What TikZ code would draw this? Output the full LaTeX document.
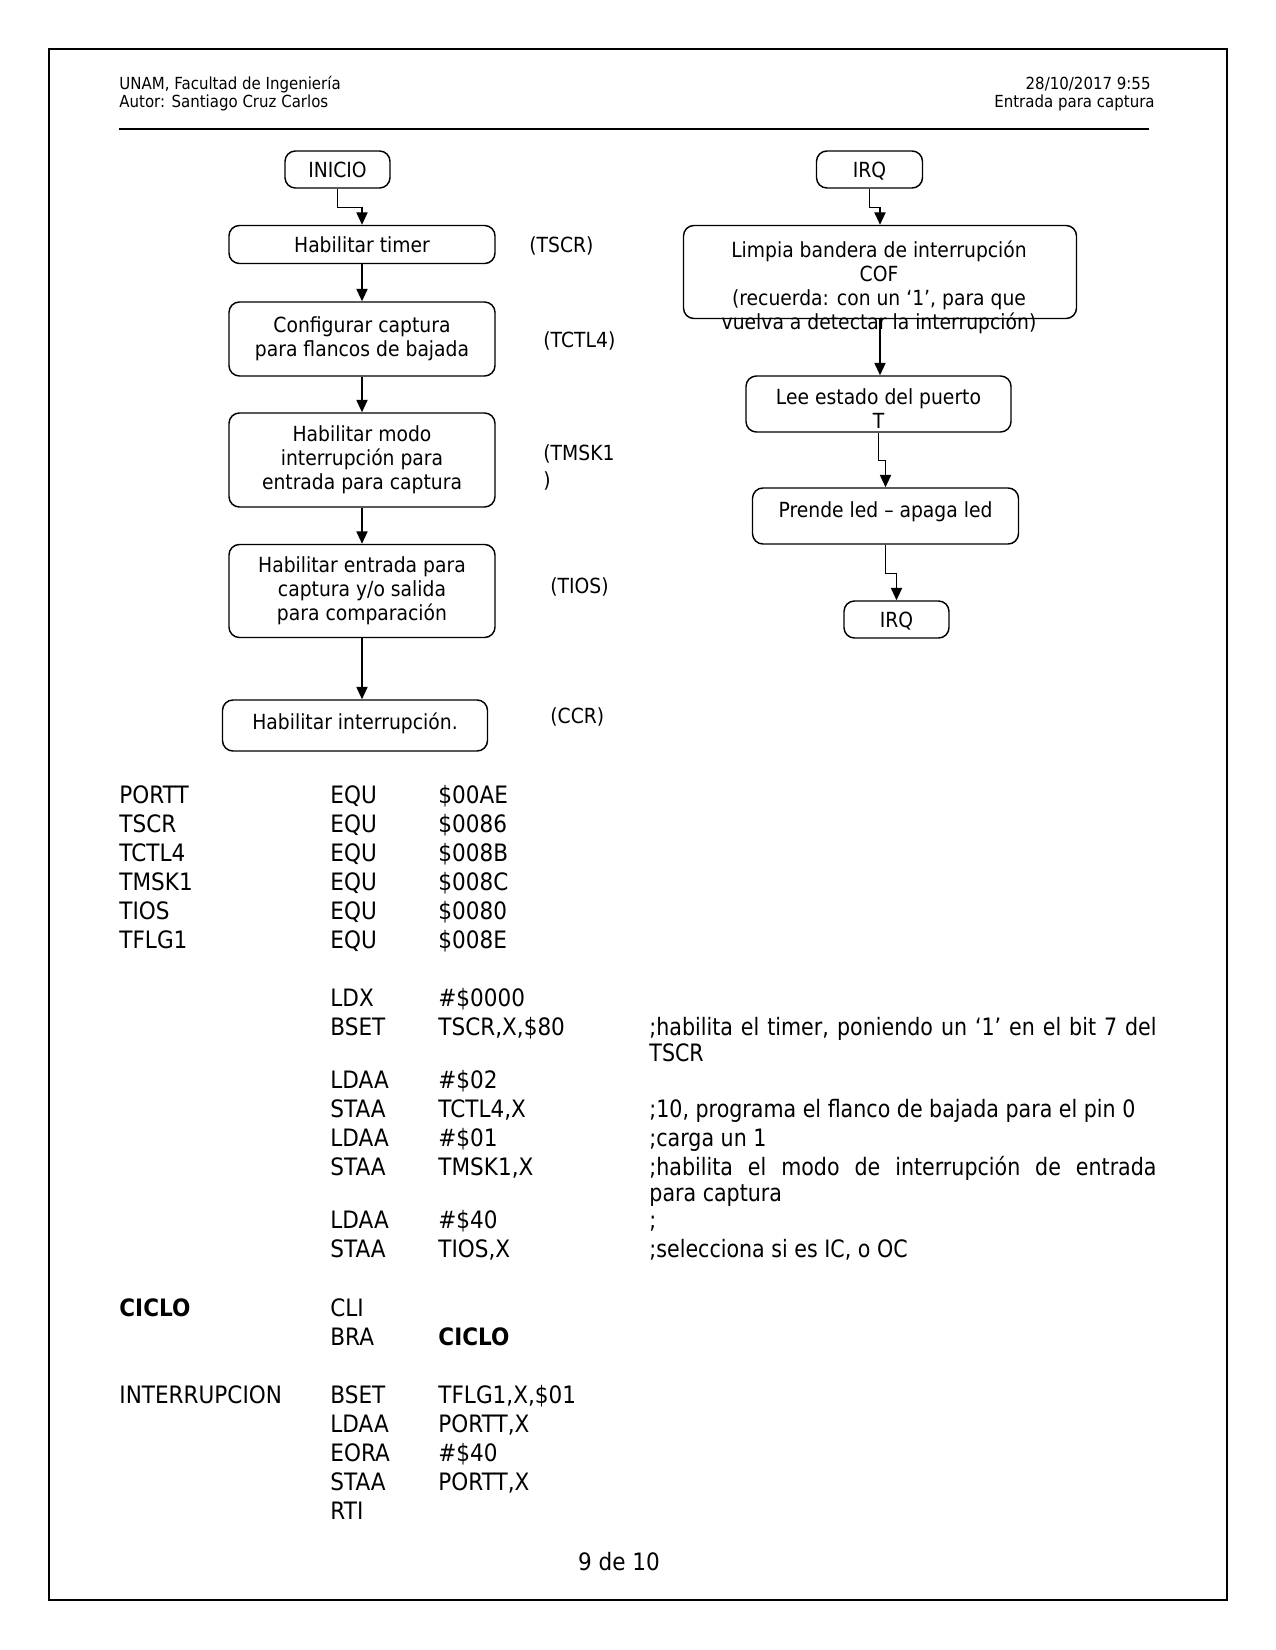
\documentclass[tikz,border=0pt]{standalone}
\usepackage{fontspec}
\setmainfont{DejaVu Sans}[FakeStretch=0.9]
\newfontfamily\cmtfamily{DejaVu Sans}[FakeStretch=0.86]
\usetikzlibrary{arrows.meta}
\newcommand\flowfont{\fontsize{10pt}{11.5pt}\selectfont}
\newcommand\codefont{\fontsize{11.5pt}{13.9pt}\selectfont}
\newcommand\hdrfont{\fontsize{8pt}{9pt}\selectfont}
\begin{document}
\begin{tikzpicture}[x=0.48pt,y=-0.48pt,
  box/.style={draw, line width=0.7pt, rounded corners=5pt, inner sep=0pt, align=center, font=\flowfont},
  capbox/.style={text height=7.8pt, text depth=0pt},
  ftxt/.style={inner sep=0pt, align=center, font=\flowfont},
  lbl/.style={anchor=base west, inner sep=0pt, font=\flowfont},
  hdr/.style={anchor=base west, inner sep=0pt, font=\hdrfont},
  code/.style={anchor=base west, inner sep=0pt, font=\codefont},
  cmt/.style={anchor=base west, inner sep=0pt, font=\cmtfamily\codefont},
  arr/.style={line width=0.7pt, -{Triangle[length=6pt,width=5.4pt]}}]
\useasboundingbox (0,0) rectangle (1275,1650);
% frame
\draw[line width=0.6pt] (49,49) rectangle (1227,1600);
% header
\node[hdr] (h1) at (119,90) {UNAM, Facultad de Ingeniería};
\node[hdr] (h2) at (119,108) {Autor: Santiago Cruz Carlos};
\node[hdr, anchor=base east] (h3) at (1151,90) {28/10/2017 9:55};
\node[hdr, anchor=base east] (h4) at (1155,108) {Entrada para captura};
\coordinate (rl) at (119,129);
\coordinate (rr) at (1149,129);
\draw[line width=0.5pt] (rl) -- (rr);
% left flowchart
\node[box, capbox, minimum width=105*0.48pt, minimum height=37*0.48pt] (inicio) at (337.5,169.5) {INICIO};
\node[box, minimum width=266*0.48pt, minimum height=38*0.48pt] (t1) at (362,244.5) {Habilitar timer};
\node[box, minimum width=266*0.48pt, minimum height=74*0.48pt] (t2) at (362,339) {Configurar captura\\para flancos de bajada};
\node[box, minimum width=266*0.48pt, minimum height=94*0.48pt] (t3) at (362,460) {Habilitar modo\\interrupción para\\entrada para captura};
\node[box, minimum width=266*0.48pt, minimum height=93*0.48pt] (t4) at (362,591) {Habilitar entrada para\\captura y/o salida\\para comparación};
\node[box, text height=7pt, text depth=3.5pt, minimum width=265*0.48pt, minimum height=51*0.48pt] (t5) at (355,725.5) {Habilitar interrupción.};
\draw[arr] (inicio.south) -- ++(0,19) -| (t1.north);
\draw[arr] (t1.south) -- (t2.north);
\draw[arr] (t2.south) -- (t3.north);
\draw[arr] (t3.south) -- (t4.north);
\draw[arr] (t4.south) -- (t4.south |- t5.north);
\node[lbl] (lb1) at (529,253) {(TSCR)};
\node[lbl] (lb2) at (543,348) {(TCTL4)};
\node[lbl] (lb3) at (543,461) {(TMSK1};
\node[lbl] (lb3b) at (543,487) {)};
\node[lbl] (lb4) at (550,593) {(TIOS)};
\node[lbl] (lb5) at (550,723) {(CCR)};
% right flowchart
\node[box, capbox, minimum width=106*0.48pt, minimum height=37*0.48pt] (irq1) at (869.5,169.5) {IRQ};
\node[box, minimum width=393*0.48pt, minimum height=93*0.48pt] (limpia) at (880,272) {};
\node[ftxt] (limpiat) at (879,287.3) {Limpia bandera de interrupción\\COF\\(recuerda: con un ‘1’, para que\\vuelva a detectar la interrupción)};
\node[box, minimum width=265*0.48pt, minimum height=56*0.48pt] (lee) at (878.5,404) {};
\node[ftxt] (leet) at (878.5,409) {Lee estado del puerto\\T};
\node[box, minimum width=266*0.48pt, minimum height=56*0.48pt] (prende) at (885.5,516) {};
\node[ftxt] (prendet) at (885.5,511.3) {Prende led – apaga led};
\node[box, capbox, minimum width=105*0.48pt, minimum height=37*0.48pt] (irq2) at (896.5,619.5) {IRQ};
\draw[arr] (irq1.south) -- ++(0,19) -| (limpia.north);
\draw[arr] (limpia.south) -- (limpia.south |- lee.north);
\draw[arr] (lee.south) -- ++(0,28) -| (prende.north);
\draw[arr] (prende.south) -- ++(0,29) -| (irq2.north);
% code: EQU block
\node[code] (a1) at (119,803) {PORTT};
\node[code] (a2) at (330,803) {EQU};
\node[code] (a3) at (438,803) {\$00AE};
\node[code] (b1) at (119,832) {TSCR};
\node[code] (b2) at (330,832) {EQU};
\node[code] (b3) at (438,832) {\$0086};
\node[code] (c1) at (119,861) {TCTL4};
\node[code] (c2) at (330,861) {EQU};
\node[code] (c3) at (438,861) {\$008B};
\node[code] (d1) at (119,890) {TMSK1};
\node[code] (d2) at (330,890) {EQU};
\node[code] (d3) at (438,890) {\$008C};
\node[code] (e1) at (119,919) {TIOS};
\node[code] (e2) at (330,919) {EQU};
\node[code] (e3) at (438,919) {\$0080};
\node[code] (f1) at (119,948) {TFLG1};
\node[code] (f2) at (330,948) {EQU};
\node[code] (f3) at (438,948) {\$008E};
% init block
\node[code] (g2) at (330,1006) {LDX};
\node[code] (g3) at (438,1006) {\#\$0000};
\node[code] (i2) at (330,1035) {BSET};
\node[code] (i3) at (438,1035) {TSCR,X,\$80};
\node[cmt] (i4) at (649,1035) {\makebox[243.4pt][s]{;habilita el timer, poniendo un ‘1’ en el bit 7 del}};
\node[cmt] (i5) at (649,1061) {TSCR};
\node[code] (j2) at (330,1088) {LDAA};
\node[code] (j3) at (438,1088) {\#\$02};
\node[code] (k2) at (330,1117) {STAA};
\node[code] (k3) at (438,1117) {TCTL4,X};
\node[cmt] (k4) at (649,1117) {;10, programa el flanco de bajada para el pin 0};
\node[code] (l2) at (330,1146) {LDAA};
\node[code] (l3) at (438,1146) {\#\$01};
\node[cmt] (l4) at (649,1146) {;carga un 1};
\node[code] (m2) at (330,1175) {STAA};
\node[code] (m3) at (438,1175) {TMSK1,X};
\node[cmt] (m4) at (649,1175) {\makebox[243.4pt][s]{;habilita el modo de interrupción de entrada}};
\node[cmt] (m5) at (649,1201) {para captura};
\node[code] (n2) at (330,1228) {LDAA};
\node[code] (n3) at (438,1228) {\#\$40};
\node[cmt] (n4) at (649,1228) {;};
\node[code] (o2) at (330,1257) {STAA};
\node[code] (o3) at (438,1257) {TIOS,X};
\node[cmt] (o4) at (649,1257) {;selecciona si es IC, o OC};
% loop
\node[code, font=\codefont\bfseries] (p1) at (119,1316) {CICLO};
\node[code] (p2) at (330,1316) {CLI};
\node[code] (q2) at (330,1345) {BRA};
\node[code, font=\codefont\bfseries] (q3) at (438,1345) {CICLO};
% interrupt routine
\node[code] (r1) at (119,1403) {INTERRUPCION};
\node[code] (r2) at (330,1403) {BSET};
\node[code] (r3) at (438,1403) {TFLG1,X,\$01};
\node[code] (s2) at (330,1432) {LDAA};
\node[code] (s3) at (438,1432) {PORTT,X};
\node[code] (t2c) at (330,1461) {EORA};
\node[code] (t3c) at (438,1461) {\#\$40};
\node[code] (u2) at (330,1490) {STAA};
\node[code] (u3) at (438,1490) {PORTT,X};
\node[code] (v2) at (330,1519) {RTI};
% page number
\node[anchor=base, inner sep=0pt, font=\codefont] (pg) at (619,1570) {9 de 10};
\end{tikzpicture}
\end{document}
